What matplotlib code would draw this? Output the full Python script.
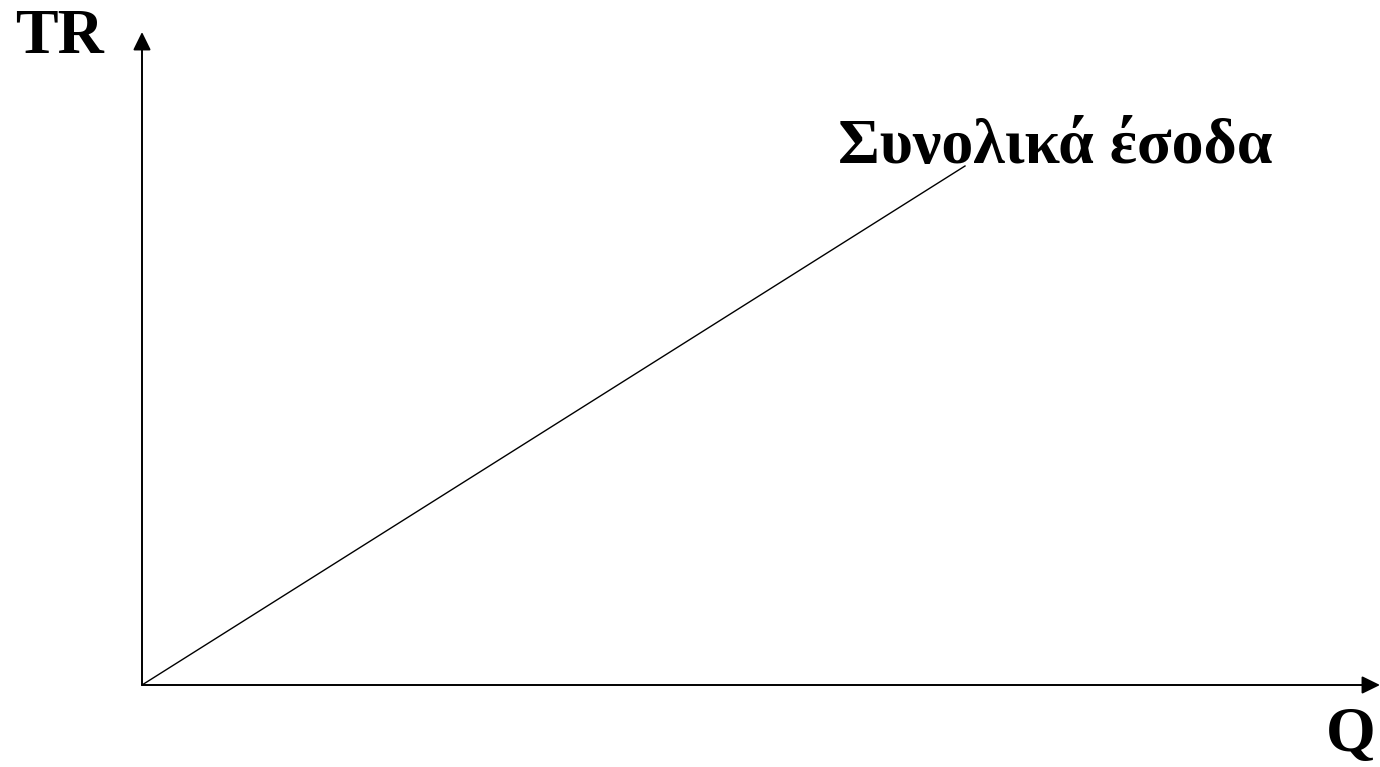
import matplotlib
matplotlib.use('Agg')
import matplotlib.pyplot as plt
from matplotlib.patches import FancyArrowPatch

# Data (arbitrary units, origin at 0,0)
q = [0, 823]
tr = [0, 519]
x_axis_len = 1238
y_axis_len = 653
curve_label = 'Συνολικά έσοδα'
y_label = 'TR'
x_label = 'Q'

plt.rcParams['font.family'] = ['Liberation Serif', 'DejaVu Serif']

fig = plt.figure(figsize=(13.8, 7.67), dpi=100)
ax = fig.add_axes([0, 0, 1, 1])
ax.set_xlim(-142, 1238)
ax.set_ylim(-82, 685)
ax.axis('off')

# Axes with arrowheads
for end in [(x_axis_len, 0), (0, y_axis_len)]:
    arr = FancyArrowPatch((0, 0), end, arrowstyle='-|>,head_length=0.55,head_width=0.27',
                          mutation_scale=20, color='black', linewidth=1.4,
                          shrinkA=0, shrinkB=0)
    ax.add_patch(arr)

# Total revenue line
ax.plot(q, tr, color='black', linewidth=1.0)

ax.text(913, 522, curve_label, fontsize=46, fontweight='bold', ha='center', va='baseline')
ax.text(-83, 632, y_label, fontsize=46, fontweight='bold', ha='center', va='baseline')
ax.text(1209, -66, x_label, fontsize=46, fontweight='bold', ha='center', va='baseline')

plt.savefig('out.png', dpi=100)
